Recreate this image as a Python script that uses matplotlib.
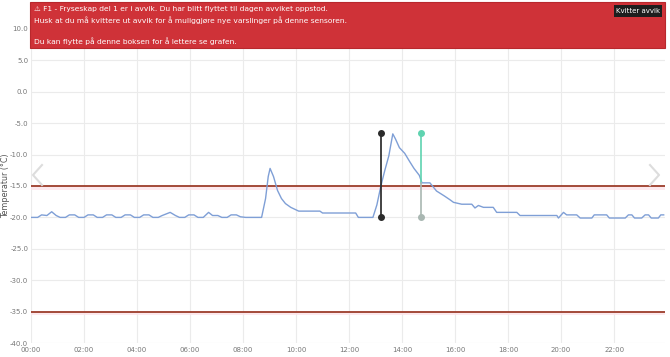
import matplotlib.pyplot as plt
from matplotlib.patches import Rectangle
from matplotlib.lines import Line2D

# time in hours since midnight, temperature in degC
hours = [0.0, 0.25, 0.4, 0.6, 0.78, 0.95, 1.1, 1.3, 1.45, 1.65, 1.8, 2.0, 2.15, 2.35,
         2.5, 2.7, 2.85, 3.05, 3.2, 3.4, 3.55, 3.75, 3.9, 4.1, 4.25, 4.45, 4.6, 4.8,
         4.95, 5.25, 5.45, 5.6, 5.8, 5.95, 6.15, 6.3, 6.5, 6.7, 6.85, 7.05, 7.2, 7.4,
         7.55, 7.75, 7.9, 8.1, 8.7, 8.85, 8.95, 9.02, 9.15, 9.3, 9.45, 9.6, 9.8, 10.0,
         10.1, 10.9, 11.0, 12.25, 12.35, 12.9, 13.05, 13.2, 13.35, 13.5, 13.65, 13.75,
         13.9, 14.1, 14.3, 14.45, 14.65, 14.75, 15.05, 15.3, 15.6, 15.81, 15.94, 16.25,
         16.63, 16.75, 16.88, 17.07, 17.44, 17.57, 18.33, 18.45, 19.84, 19.9, 20.09,
         20.21, 20.59, 20.72, 21.16, 21.25, 21.72, 21.82, 22.42, 22.54, 22.67, 22.77,
         23.04, 23.17, 23.3, 23.4, 23.67, 23.76, 23.87]
temps = [-20.0, -20.0, -19.6, -19.7, -19.1, -19.7, -20.0, -20.0, -19.6, -19.6, -20.0, -20.0, -19.6, -19.6,
         -20.0, -20.0, -19.6, -19.6, -20.0, -20.0, -19.6, -19.6, -20.0, -20.0, -19.6, -19.6, -20.0, -20.0,
         -19.7, -19.2, -19.7, -20.0, -20.0, -19.6, -19.6, -20.0, -20.0, -19.2, -19.7, -19.7, -20.0, -20.0,
         -19.6, -19.6, -19.9, -20.0, -20.0, -17.0, -13.5, -12.2, -13.5, -15.7, -17.0, -17.8, -18.4, -18.8,
         -19.0, -19.0, -19.3, -19.3, -20.0, -20.0, -18.0, -15.0, -12.5, -10.2, -6.7, -7.5,
         -8.9, -9.8, -11.2, -12.2, -13.3, -14.5, -14.5, -15.8, -16.6, -17.2, -17.6, -17.9,
         -17.9, -18.5, -18.1, -18.4, -18.4, -19.2, -19.2, -19.7, -19.7, -20.1, -19.2,
         -19.6, -19.6, -20.1, -20.1, -19.6, -19.6, -20.1, -20.1, -19.6, -19.6, -20.1,
         -20.1, -19.6, -19.6, -20.1, -20.1, -19.6, -19.6]

limits = [-15, -35]
marker_start = 13.21   # black marker
marker_end = 14.72     # teal marker
marker_top = -6.5
marker_bottom = -20.0
marker_cross = -14.5

xticks = list(range(0, 24, 2))
xlabels = [f"{h:02d}:00" for h in xticks]
yticks = list(range(-40, 11, 5))

msg1 = "\u26a0 F1 - Fryseskap del 1 er i avvik. Du har blitt flyttet til dagen avviket oppstod."
msg2 = "Husk at du må kvittere ut avvik for å muliggjøre nye varslinger på denne sensoren."
msg3 = "Du kan flytte på denne boksen for å lettere se grafen."

fig = plt.figure(figsize=(6.7, 3.57), dpi=100)
ax = fig.add_axes([31 / 670, 14 / 357, 634 / 670, 314 / 357])

ax.set_xlim(0, 23.92)
ax.set_ylim(-40, 10)
ax.set_xticks(xticks)
ax.set_xticklabels(xlabels)
ax.set_yticks(yticks)
ax.set_yticklabels([f"{y:.1f}" for y in yticks])
ax.tick_params(length=0, labelsize=5.0, colors="#777777", pad=2)
ax.tick_params(axis="x", pad=3)
ax.grid(color="#ebebeb", linewidth=0.8)
ax.set_axisbelow(True)
for s in ax.spines.values():
    s.set_visible(False)
ax.set_ylabel("Temperatur (°C)", fontsize=5.8, color="#555555")
ax.yaxis.set_label_coords(-0.033, 0.5)

for lim in limits:
    ax.axhspan(lim - 0.6, lim, color="#fde4ea", alpha=0.8, lw=0)
    ax.axhline(lim, color="#9c3d2b", linewidth=1.3)

ax.plot(hours, temps, color="#7f9fd6", linewidth=1.0)

# deviation markers
ax.plot([marker_start, marker_start], [marker_bottom, marker_top], color="#222222", lw=1.2)
ax.plot([marker_start, marker_start], [marker_bottom, marker_top], "o", color="#2b2b2b", ms=4)
ax.plot([marker_end, marker_end], [marker_cross, marker_top], color="#5fd3b0", lw=1.2)
ax.plot([marker_end, marker_end], [marker_bottom, marker_cross], color="#a9b7b2", lw=1.2)
ax.plot([marker_end], [marker_top], "o", color="#5fd3b0", ms=4)
ax.plot([marker_end], [marker_bottom], "o", color="#a9b7b2", ms=4)

# navigation chevrons
chev = "#dddddd"
fig.add_artist(Line2D([42 / 670, 33 / 670, 42 / 670], [1 - 165 / 357, 1 - 175 / 357, 1 - 185 / 357],
                      color=chev, lw=1.5, transform=fig.transFigure))
fig.add_artist(Line2D([650 / 670, 659 / 670, 650 / 670], [1 - 165 / 357, 1 - 175 / 357, 1 - 185 / 357],
                      color=chev, lw=1.5, transform=fig.transFigure))

# alert banner
fig.add_artist(Rectangle((30 / 670, 1 - 48 / 357), 635 / 670, 46 / 357, transform=fig.transFigure,
                         facecolor="#cf3238", edgecolor="#b8282d", lw=0.8, zorder=5))
fig.text(34 / 670, 1 - 9 / 357, msg1, color="white", fontsize=5.4, va="center", zorder=6)
fig.text(34 / 670, 1 - 20 / 357, msg2, color="white", fontsize=5.4, va="center", zorder=6)
fig.text(34 / 670, 1 - 41 / 357, msg3, color="white", fontsize=5.4, va="center", zorder=6)
fig.add_artist(Rectangle((614 / 670, 1 - 17 / 357), 48 / 670, 12 / 357, transform=fig.transFigure,
                         facecolor="#1e1e1e", edgecolor="none", zorder=6))
fig.text(638 / 670, 1 - 11 / 357, "Kvitter avvik", color="white", fontsize=5, ha="center",
         va="center", zorder=7)

fig.savefig("out.png", dpi=100)
